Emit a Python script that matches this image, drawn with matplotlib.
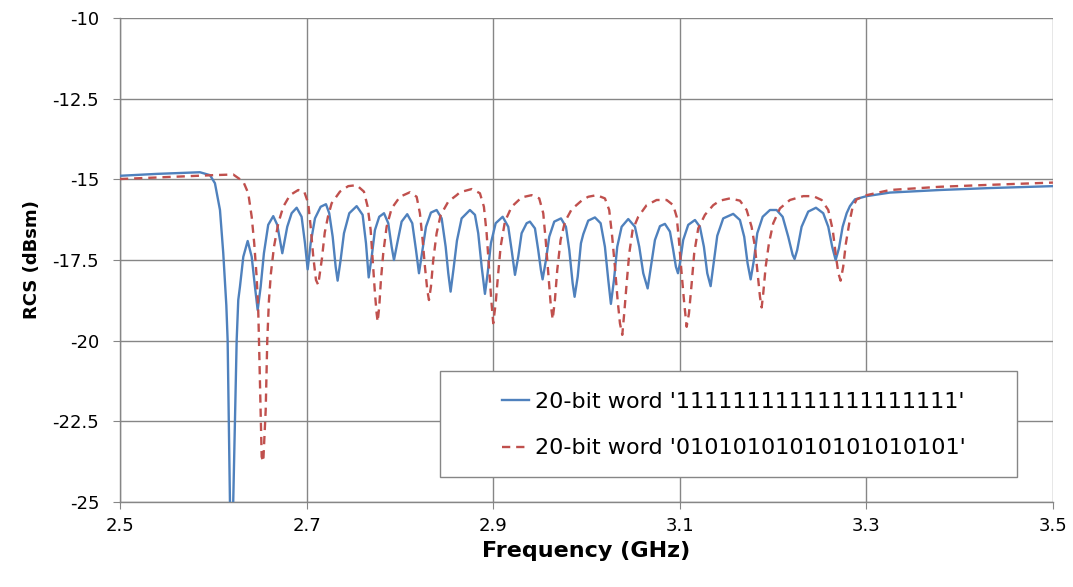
import matplotlib
matplotlib.use("Agg")
import matplotlib.pyplot as plt
from matplotlib.patches import Rectangle

# --- data (GHz, dBsm) ---
freq_ones = [
    2.5000, 2.5400, 2.5750, 2.5857, 2.5965, 2.6018, 2.6072, 2.6107, 2.6140, 2.6154,
    2.6179, 2.6197, 2.6214, 2.6251, 2.6268, 2.6286, 2.6322, 2.6369, 2.6412, 2.6447,
    2.6476, 2.6508, 2.6543, 2.6589, 2.6643, 2.6686, 2.6740, 2.6793, 2.6840, 2.6894,
    2.6947, 2.6983, 2.7012, 2.7044, 2.7090, 2.7151, 2.7208, 2.7243, 2.7280, 2.7312,
    2.7333, 2.7365, 2.7401, 2.7458, 2.7537, 2.7601, 2.7637, 2.7666, 2.7698, 2.7733,
    2.7779, 2.7830, 2.7876, 2.7912, 2.7937, 2.7972, 2.8019, 2.8079, 2.8133, 2.8173,
    2.8205, 2.8237, 2.8280, 2.8333, 2.8394, 2.8448, 2.8491, 2.8519, 2.8544, 2.8576,
    2.8612, 2.8662, 2.8751, 2.8805, 2.8840, 2.8877, 2.8912, 2.8941, 2.8976, 2.9027,
    2.9102, 2.9162, 2.9198, 2.9234, 2.9269, 2.9305, 2.9359, 2.9394, 2.9448, 2.9483,
    2.9512, 2.9530, 2.9566, 2.9601, 2.9655, 2.9727, 2.9780, 2.9816, 2.9852, 2.9873,
    2.9906, 2.9941, 2.9966, 3.0019, 3.0091, 3.0152, 3.0198, 3.0234, 3.0262, 3.0295,
    3.0330, 3.0377, 3.0448, 3.0520, 3.0566, 3.0609, 3.0656, 3.0691, 3.0734, 3.0788,
    3.0841, 3.0895, 3.0930, 3.0959, 3.0981, 3.1002, 3.1037, 3.1091, 3.1163, 3.1216,
    3.1259, 3.1295, 3.1331, 3.1363, 3.1402, 3.1466, 3.1573, 3.1645, 3.1691, 3.1727,
    3.1760, 3.1795, 3.1831, 3.1889, 3.1967, 3.2038, 3.2103, 3.2163, 3.2210, 3.2231,
    3.2259, 3.2306, 3.2377, 3.2460, 3.2538, 3.2592, 3.2634, 3.2671, 3.2706, 3.2746,
    3.2789, 3.2824, 3.2878, 3.3003, 3.3253, 3.3789, 3.4325, 3.5000,
]
rcs_ones = [
    -14.89, -14.83, -14.79, -14.78, -14.87, -15.12, -15.95, -17.28, -18.90, -19.98,
    -25.00, -26.50, -25.00, -19.98, -18.74, -18.33, -17.40, -16.91, -17.40, -18.33,
    -19.05, -18.33, -17.29, -16.41, -16.14, -16.41, -17.29, -16.47, -16.05, -15.88,
    -16.16, -16.98, -17.79, -16.98, -16.21, -15.85, -15.77, -16.05, -16.78, -17.71,
    -18.14, -17.50, -16.67, -16.05, -15.83, -16.10, -16.98, -18.04, -17.40, -16.57,
    -16.16, -16.05, -16.36, -17.09, -17.50, -16.98, -16.31, -16.08, -16.36, -17.19,
    -17.91, -17.29, -16.47, -16.03, -15.95, -16.21, -17.09, -17.91, -18.48, -17.76,
    -16.90, -16.21, -15.95, -16.10, -16.67, -17.71, -18.55, -17.91, -16.98, -16.36,
    -16.16, -16.47, -17.19, -17.96, -17.40, -16.67, -16.36, -16.31, -16.52, -17.19,
    -17.81, -18.10, -17.50, -16.78, -16.31, -16.21, -16.47, -17.19, -18.22, -18.64,
    -18.02, -16.98, -16.70, -16.28, -16.18, -16.36, -17.09, -18.12, -18.86, -18.12,
    -17.09, -16.47, -16.23, -16.47, -17.09, -17.91, -18.38, -17.71, -16.88, -16.45,
    -16.38, -16.62, -17.19, -17.71, -17.91, -17.60, -16.88, -16.41, -16.26, -16.47,
    -17.09, -17.91, -18.31, -17.60, -16.75, -16.21, -16.07, -16.26, -16.78, -17.60,
    -18.10, -17.50, -16.67, -16.16, -15.95, -15.95, -16.16, -16.78, -17.34, -17.47,
    -17.19, -16.47, -16.00, -15.88, -16.05, -16.47, -17.09, -17.50, -17.14, -16.47,
    -16.05, -15.83, -15.62, -15.52, -15.41, -15.33, -15.27, -15.21,
]

freq_alt = [
    2.5000, 2.5500, 2.6000, 2.6214, 2.6322, 2.6375, 2.6412, 2.6439, 2.6465, 2.6482,
    2.6490, 2.6519, 2.6536, 2.6562, 2.6579, 2.6597, 2.6618, 2.6651, 2.6697, 2.6750,
    2.6822, 2.6911, 2.6975, 2.7018, 2.7044, 2.7072, 2.7101, 2.7125, 2.7165, 2.7195,
    2.7230, 2.7269, 2.7358, 2.7447, 2.7537, 2.7615, 2.7655, 2.7687, 2.7709, 2.7733,
    2.7751, 2.7762, 2.7779, 2.7797, 2.7822, 2.7858, 2.7912, 2.8001, 2.8108, 2.8180,
    2.8215, 2.8244, 2.8269, 2.8294, 2.8312, 2.8333, 2.8358, 2.8394, 2.8437, 2.8519,
    2.8609, 2.8644, 2.8770, 2.8858, 2.8901, 2.8930, 2.8955, 2.8980, 2.9001, 2.9027,
    2.9051, 2.9080, 2.9126, 2.9198, 2.9305, 2.9413, 2.9494, 2.9537, 2.9563, 2.9591,
    2.9616, 2.9638, 2.9662, 2.9687, 2.9723, 2.9770, 2.9841, 2.9948, 3.0019, 3.0109,
    3.0198, 3.0244, 3.0276, 3.0305, 3.0334, 3.0359, 3.0384, 3.0405, 3.0431, 3.0459,
    3.0495, 3.0555, 3.0645, 3.0752, 3.0860, 3.0930, 3.0967, 3.0991, 3.1020, 3.1048,
    3.1074, 3.1099, 3.1128, 3.1155, 3.1198, 3.1270, 3.1359, 3.1431, 3.1538, 3.1645,
    3.1717, 3.1770, 3.1806, 3.1835, 3.1860, 3.1878, 3.1895, 3.1921, 3.1956, 3.2002,
    3.2074, 3.2181, 3.2324, 3.2431, 3.2521, 3.2592, 3.2640, 3.2675, 3.2700, 3.2724,
    3.2752, 3.2781, 3.2817, 3.2850, 3.2896, 3.3003, 3.3253, 3.3789, 3.4325, 3.5000,
]
rcs_alt = [
    -14.99, -14.93, -14.87, -14.85, -15.07, -15.43, -16.16, -16.98, -18.02, -19.05,
    -19.98, -23.60, -23.75, -22.15, -19.98, -18.74, -17.91, -17.09, -16.36, -15.85,
    -15.49, -15.33, -15.38, -15.74, -16.47, -17.40, -18.12, -18.27, -17.45, -16.65,
    -16.15, -15.74, -15.38, -15.21, -15.18, -15.38, -15.85, -16.57, -17.50, -18.53,
    -19.15, -19.41, -18.95, -18.12, -17.29, -16.47, -15.90, -15.54, -15.40, -15.54,
    -16.05, -16.88, -17.71, -18.43, -18.74, -18.33, -17.50, -16.67, -16.11, -15.69,
    -15.49, -15.40, -15.30, -15.43, -15.85, -16.67, -17.71, -18.74, -19.46, -18.84,
    -18.02, -17.09, -16.31, -15.85, -15.56, -15.49, -15.59, -16.05, -16.88, -17.91,
    -18.84, -19.34, -18.74, -17.81, -16.88, -16.31, -15.93, -15.66, -15.54, -15.49,
    -15.59, -15.95, -16.78, -17.71, -18.74, -19.46, -19.82, -19.15, -18.22, -17.29,
    -16.57, -16.16, -15.80, -15.64, -15.64, -15.80, -16.16, -16.88, -17.91, -18.84,
    -19.57, -19.15, -18.22, -17.29, -16.52, -16.10, -15.80, -15.66, -15.59, -15.66,
    -15.95, -16.47, -17.09, -17.91, -18.64, -18.97, -18.53, -17.71, -16.98, -16.36,
    -15.90, -15.64, -15.52, -15.52, -15.64, -15.95, -16.57, -17.40, -17.91, -18.14,
    -17.71, -16.98, -16.36, -15.90, -15.62, -15.49, -15.33, -15.23, -15.17, -15.10,
]

x_ticks = [2.5, 2.7, 2.9, 3.1, 3.3, 3.5]
x_labels = ["2.5", "2.7", "2.9", "3.1", "3.3", "3.5"]
y_ticks = [-10, -12.5, -15, -17.5, -20, -22.5, -25]
y_labels = ["-10", "-12.5", "-15", "-17.5", "-20", "-22.5", "-25"]

label_ones = "20-bit word '11111111111111111111'"
label_alt = "20-bit word '01010101010101010101'"

BLUE = "#4F81BD"
RED = "#C0504D"
GRID = "#868686"

plt.rcParams["font.family"] = ["DejaVu Sans"]

fig = plt.figure(figsize=(10.73, 5.87), dpi=100)
ax = fig.add_axes([0.1118, 0.1448, 0.8695, 0.8245])

ax.plot(freq_ones, rcs_ones, color=BLUE, lw=1.7, label=label_ones, zorder=3)
ax.plot(freq_alt, rcs_alt, color=RED, lw=1.7, ls=(0, (3.5, 2.5)), label=label_alt, zorder=3)

ax.set_xlim(2.5, 3.5)
ax.set_ylim(-25, -10)
ax.set_xticks(x_ticks)
ax.set_xticklabels(x_labels)
ax.set_yticks(y_ticks)
ax.set_yticklabels(y_labels)
ax.tick_params(axis="both", labelsize=13, length=5, color=GRID, direction="out")
ax.tick_params(axis="y", pad=10)
ax.tick_params(axis="x", pad=6)

ax.grid(True, color=GRID, lw=1.0)
ax.set_axisbelow(True)
for side in ["top", "right"]:
    ax.spines[side].set_visible(False)
for side in ["left", "bottom"]:
    ax.spines[side].set_color(GRID)
    ax.spines[side].set_linewidth(1.0)

ax.set_xlabel("Frequency (GHz)", fontsize=16, fontweight="bold", labelpad=4)
ax.set_ylabel("RCS (dBsm)", fontsize=13, fontweight="bold", labelpad=8)

# legend box
box = Rectangle((0.343, 0.0517), 0.618, 0.219, transform=ax.transAxes,
                facecolor="white", edgecolor=GRID, lw=1.0, zorder=4)
ax.add_patch(box)
leg = ax.legend(loc="center left", bbox_to_anchor=(0.410, 0.159), frameon=False,
                fontsize=16, handlelength=1.2, handletextpad=0.25,
                labelspacing=1.2, borderaxespad=0, borderpad=0)
leg.set_zorder(5)

fig.savefig("out.png", dpi=100)
